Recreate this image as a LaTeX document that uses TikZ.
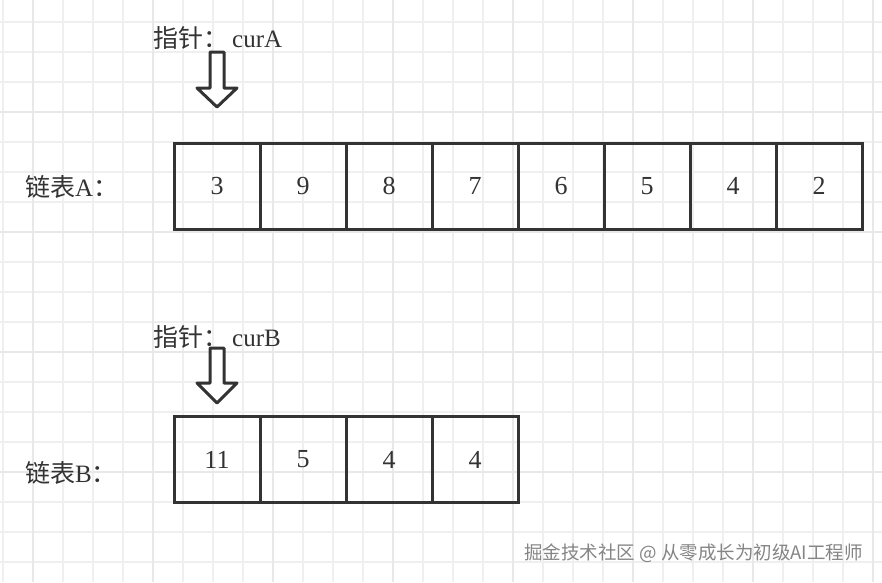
\documentclass[tikz,border=0pt]{standalone}
\usepackage{fontspec}
\setmainfont{Liberation Serif}
\newfontfamily\cjk{Noto Sans CJK SC}
\definecolor{ink}{HTML}{333333}
\definecolor{gridminor}{HTML}{EFEFEF}
\definecolor{gridmajor}{HTML}{E8E8E8}
\definecolor{wmgray}{HTML}{858585}
\begin{document}
\begin{tikzpicture}[x=1pt,y=-1pt,
  cell/.style={draw=ink, line width=3pt, minimum width=86pt, minimum height=86pt, inner sep=0pt, font=\fontsize{26}{30}\selectfont, text=ink},
  ptrlabel/.style={anchor=west, inner sep=0pt, font=\fontsize{25}{28}\selectfont, text=ink},
  listlabel/.style={anchor=west, inner sep=0pt, font=\fontsize{25}{30}\selectfont, text=ink},
  blockarrow/.style={draw=ink, line width=3pt, fill=white, line join=round},
  minorline/.style={draw=gridminor, line width=1.6pt},
  majorline/.style={draw=gridmajor, line width=2pt}]
\useasboundingbox (0,0) rectangle (882,582);
\fill[white] (0,0) rectangle (882,582);
% grid
\foreach \k in {0,...,29} {
  \pgfmathsetmacro{\xx}{2.7+30*\k}
  \draw[minorline] (\xx,0) -- (\xx,582);
}
\foreach \k in {0,...,18} {
  \pgfmathsetmacro{\yy}{21.7+30*\k}
  \draw[minorline] (0,\yy) -- (882,\yy);
}
\foreach \k in {1,5,...,29} {
  \pgfmathsetmacro{\xx}{2.7+30*\k}
  \draw[majorline] (\xx,0) -- (\xx,582);
}
\foreach \k in {3,7,...,18} {
  \pgfmathsetmacro{\yy}{21.7+30*\k}
  \draw[majorline] (0,\yy) -- (882,\yy);
}
% list A
\foreach \v [count=\i] in {3,9,8,7,6,5,4,2} {
  \node[cell] (a\i) at ({174+43+86*(\i-1)},186) {\v};
}
% list B
\foreach \v [count=\i] in {11,5,4,4} {
  \node[cell] (b\i) at ({174+43+86*(\i-1)},459.5) {\v};
}
% labels
\node[ptrlabel] (pa) at (153,38) {{\cjk 指针：}\hspace{4pt}curA};
\node[ptrlabel] (pb) at (153,337) {{\cjk 指针：}\hspace{4pt}curB};
\node[listlabel] (la) at (25,187) {{\cjk 链表}A{\cjk ：}};
\node[listlabel] (lb) at (25,473) {{\cjk 链表}B{\cjk ：}};
% block arrows
\draw[blockarrow] (210,52) -- (224,52) -- (224,88) -- (237,88) -- (217,107) -- (197,88) -- (210,88) -- cycle;
\draw[blockarrow] (210,348) -- (224,348) -- (224,383) -- (237,383) -- (217,403) -- (197,383) -- (210,383) -- cycle;
% watermark
\node[anchor=east, inner sep=0pt, text=wmgray, font=\cjk\fontsize{18.5}{22}\selectfont] (wm) at (863,553) {掘金技术社区 @ 从零成长为初级AI工程师};
\end{tikzpicture}
\end{document}
